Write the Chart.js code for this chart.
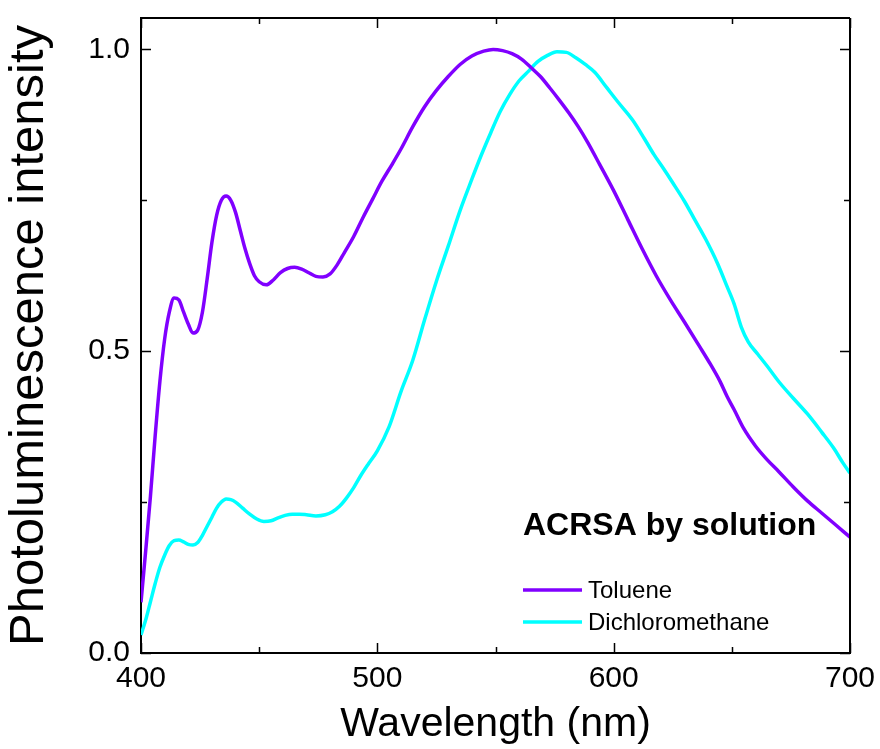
<!DOCTYPE html>
<html>
<head>
<meta charset="utf-8">
<script src="https://cdn.jsdelivr.net/npm/chart.js@4"></script>
<style>
	html, body { margin:0; padding:0; background:#fff; }
	.chart-wrap { width:880px; height:749px; position:relative; }
</style>
</head>
<body>
<div class="chart-wrap"><canvas id="plChart"></canvas></div>
<script>
// wavelength (nm) / normalised PL intensity
const tolueneWl = [400,402,404,406,408,410,412,414,416,418,420,422,424,426,428,430,432,434,436,438,440,442,444,446,448,450,453,456,459,462,465,468,471,474,477,480,483,486,490,494,498,502,506,510,515,520,525,530,535,540,545,549,553,557,561,565,569,573,577,581,585,589,594,600,606,612,618,624,630,636,641,645,648,651,655,660,665,670,676,682,688,694,700];
const tolueneI = [0.084,0.17,0.26,0.36,0.45,0.52,0.565,0.588,0.585,0.565,0.545,0.530,0.535,0.565,0.62,0.68,0.725,0.75,0.757,0.75,0.73,0.70,0.67,0.645,0.625,0.615,0.610,0.618,0.630,0.637,0.639,0.636,0.630,0.624,0.623,0.628,0.643,0.663,0.690,0.722,0.752,0.782,0.808,0.835,0.872,0.905,0.932,0.955,0.975,0.989,0.997,1.0,0.998,0.993,0.984,0.970,0.955,0.936,0.916,0.895,0.872,0.846,0.810,0.766,0.718,0.670,0.625,0.585,0.548,0.510,0.478,0.450,0.425,0.403,0.372,0.343,0.320,0.300,0.275,0.252,0.232,0.212,0.192];

const dcmWl = [400,402,404,406,408,410,412,414,416,418,420,422,424,426,428,430,432,434,436,438,440,443,446,449,452,455,458,461,464,467,470,474,478,481,484,487,490,493,496,500,505,510,515,520,525,530,535,540,544,548,552,556,560,564,568,572,576,580,584,588,592,597,602,608,613,617,621,625,630,634,639,644,648,651,654,657,661,665,670,676,682,688,693,697,700];
const dcmI = [0.030,0.055,0.085,0.115,0.142,0.162,0.178,0.186,0.187,0.184,0.180,0.179,0.183,0.195,0.210,0.225,0.240,0.250,0.255,0.254,0.250,0.240,0.230,0.222,0.218,0.219,0.224,0.228,0.230,0.230,0.229,0.227,0.229,0.234,0.243,0.257,0.274,0.294,0.312,0.335,0.375,0.433,0.485,0.552,0.616,0.674,0.733,0.785,0.825,0.862,0.897,0.925,0.948,0.964,0.980,0.990,0.996,0.995,0.986,0.975,0.962,0.937,0.912,0.883,0.852,0.826,0.803,0.779,0.748,0.720,0.685,0.645,0.607,0.578,0.540,0.515,0.495,0.475,0.449,0.422,0.396,0.366,0.340,0.315,0.298];

const seriesNames = ['Toluene', 'Dichloromethane'];
const legendTitle = 'ACRSA by solution';
const xMajorTicks = [400, 500, 600, 700];
const xMinorTicks = [450, 550, 650];
const yMajorTicks = [0, 0.5, 1.0];
const yMinorTicks = [0.25, 0.75];

const FONT = '"Liberation Sans", Arial, Helvetica, sans-serif';

function toPoints(xs, ys){
	return xs.map((x, i) => ({ x: x, y: ys[i] }));
}

// scales reserve room for half-labels at the ends; the layout here is fixed
function noScalePadding(s){
	s.paddingTop = 0; s.paddingBottom = 0;
	s.paddingLeft = 0; s.paddingRight = 0;
}

// box around the plot + inward ticks on all four sides
const framePlugin = {
	id: 'frame',
	afterDatasetsDraw(chart){
		const ctx = chart.ctx;
		const a = chart.chartArea;
		const xs = chart.scales.x, ys = chart.scales.y;
		ctx.save();
		ctx.strokeStyle = '#000';
		ctx.lineWidth = 2;
		ctx.beginPath();
		ctx.moveTo(a.left, a.top); ctx.lineTo(a.right, a.top);
		ctx.moveTo(a.right, a.top); ctx.lineTo(a.right, a.bottom);
		ctx.stroke();

		ctx.lineWidth = 1.5;
		ctx.beginPath();
		const xt = (v, len) => {
			const p = Math.round(xs.getPixelForValue(v)) + 0.5;
			ctx.moveTo(p, a.bottom); ctx.lineTo(p, a.bottom - len);
			ctx.moveTo(p, a.top); ctx.lineTo(p, a.top + len);
		};
		const yt = (v, len) => {
			const p = Math.round(ys.getPixelForValue(v)) + 0.5;
			ctx.moveTo(a.left, p); ctx.lineTo(a.left + len, p);
			ctx.moveTo(a.right, p); ctx.lineTo(a.right - len, p);
		};
		xMajorTicks.forEach(v => xt(v, 10));
		xMinorTicks.forEach(v => xt(v, 6));
		yMajorTicks.forEach(v => yt(v, 10));
		yMinorTicks.forEach(v => yt(v, 6));
		ctx.stroke();
		ctx.restore();
	}
};

// legend block in the lower right of the plot
const legendPlugin = {
	id: 'innerLegend',
	afterDatasetsDraw(chart){
		const ctx = chart.ctx;
		const a = chart.chartArea;
		const x0 = a.left + 382;
		ctx.save();
		ctx.fillStyle = '#000';
		ctx.textBaseline = 'alphabetic';
		ctx.font = 'bold 32px ' + FONT;
		ctx.fillText(legendTitle, x0, a.top + 517);

		ctx.font = '24px ' + FONT;
		ctx.textBaseline = 'middle';
		chart.data.datasets.forEach((ds, i) => {
			const y = a.top + 572 + i * 32;
			ctx.strokeStyle = ds.borderColor;
			ctx.lineWidth = 3.5;
			ctx.beginPath();
			ctx.moveTo(x0, y); ctx.lineTo(x0 + 59, y);
			ctx.stroke();
			ctx.fillStyle = '#000';
			ctx.fillText(ds.label, x0 + 65, y + 1);
		});
		ctx.restore();
	}
};

window.addEventListener('DOMContentLoaded', function(){
	const ctx = document.getElementById('plChart').getContext('2d');

	new Chart(ctx, {
		type: 'line',
		data: {
			datasets: [
				{ label: seriesNames[0], data: toPoints(tolueneWl, tolueneI), borderColor: '#8000ff', borderWidth: 3.5, pointRadius: 0, cubicInterpolationMode: 'monotone', fill: false },
				{ label: seriesNames[1], data: toPoints(dcmWl, dcmI), borderColor: '#00ffff', borderWidth: 3.5, pointRadius: 0, cubicInterpolationMode: 'monotone', fill: false }
			]
		},
		options: {
			responsive: true,
			maintainAspectRatio: false,
			animation: false,
			devicePixelRatio: 1,
			layout: { padding: { top: 18, right: 30, left: 0, bottom: 0 } },
			plugins: {
				legend: { display: false },
				tooltip: { enabled: false }
			},
			scales: {
				x: {
					type: 'linear',
					min: 400, max: 700,
					grid: { display: false, drawTicks: false },
					border: { display: true, color: '#000', width: 2 },
					afterBuildTicks: s => { s.ticks = xMajorTicks.map(v => ({ value: v })); },
					afterFit: s => { s.height = 96; noScalePadding(s); },
					ticks: { color: '#000', padding: 8, font: { family: FONT, size: 30 }, callback: v => String(v) },
					title: { display: true, text: 'Wavelength (nm)', color: '#000', padding: 0, font: { family: FONT, size: 41 } }
				},
				y: {
					type: 'linear',
					min: 0, max: 1.052,
					grid: { display: false, drawTicks: false },
					border: { display: true, color: '#000', width: 2 },
					afterBuildTicks: s => { s.ticks = yMajorTicks.map(v => ({ value: v })); },
					afterFit: s => { s.width = 141; noScalePadding(s); },
					ticks: { color: '#000', padding: 11, font: { family: FONT, size: 30 }, callback: v => Number(v).toFixed(1) },
					title: { display: true, text: 'Photoluminescence intensity', color: '#000', padding: 0, font: { family: FONT, size: 49 } }
				}
			}
		},
		plugins: [framePlugin, legendPlugin]
	});
});
</script>
</body>
</html>
